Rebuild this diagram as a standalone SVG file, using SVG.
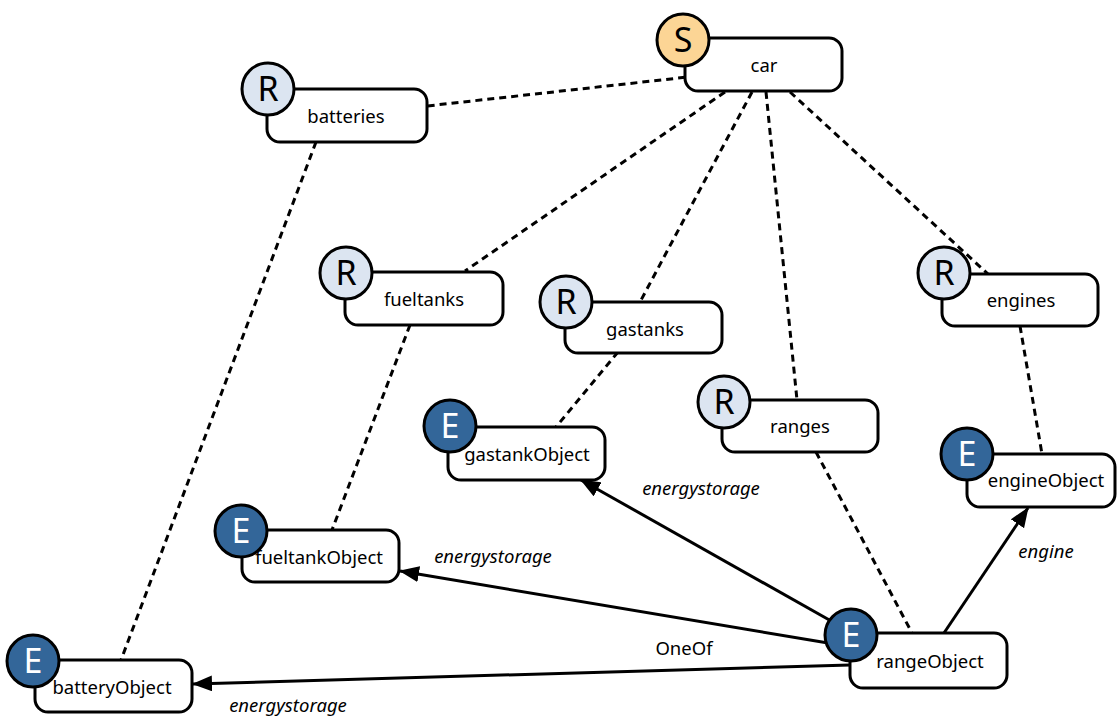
<svg xmlns="http://www.w3.org/2000/svg" width="1119" height="717" viewBox="0 0 1119 717">
<style>
.box{fill:#fff;stroke:#000;stroke-width:3}
.c{stroke:#000;stroke-width:3}
.S{fill:#FCD595}
.R{fill:#DCE5F1}
.E{fill:#336699}
.lt{font-family:"Noto Sans","Liberation Sans",sans-serif;font-size:18.5px;text-anchor:middle;fill:#000}
.ct{font-family:"Noto Sans","Liberation Sans",sans-serif;font-size:34px;text-anchor:middle;fill:#000}
.ct.w{fill:#fff}
.dash{fill:none;stroke:#000;stroke-width:3;stroke-dasharray:7 5}
.arr{fill:none;stroke:#000;stroke-width:3;marker-end:url(#ah)}
.el{font-family:"Noto Sans","Liberation Sans",sans-serif;font-size:18.5px;text-anchor:middle;fill:#000}
.it{font-style:italic}
</style>
<defs>
<marker id="ah" markerUnits="userSpaceOnUse" markerWidth="20" markerHeight="16" viewBox="0 0 20 16" refX="19" refY="8" orient="auto">
<path d="M0,0 L20,8 L0,16 Z" fill="#000"/>
</marker>
</defs>
<g id="connectors">
<line class="dash" x1="697" y1="76" x2="427" y2="106"/>
<line class="dash" x1="725" y1="92" x2="465" y2="271"/>
<line class="dash" x1="752" y1="92" x2="640" y2="302"/>
<line class="dash" x1="766" y1="92" x2="797" y2="400"/>
<line class="dash" x1="790" y1="92" x2="988" y2="274"/>
<line class="dash" x1="316" y1="142" x2="121" y2="660"/>
<line class="dash" x1="410" y1="325" x2="332" y2="530"/>
<line class="dash" x1="618" y1="352" x2="556" y2="427"/>
<line class="dash" x1="1020" y1="326" x2="1042" y2="454"/>
<line class="dash" x1="816" y1="452" x2="912" y2="633"/>
<line class="arr" x1="840" y1="626" x2="581" y2="480"/>
<line class="arr" x1="828" y1="643" x2="400" y2="571"/>
<line class="arr" x1="850" y1="665" x2="193" y2="684"/>
<line class="arr" x1="944" y1="633" x2="1028" y2="508"/>
<text class="el it" x="701" y="495">energystorage</text>
<text class="el it" x="493" y="563">energystorage</text>
<text class="el" x="684" y="655">OneOf</text>
<text class="el it" x="288" y="712">energystorage</text>
<text class="el it" x="1046" y="558">engine</text>
</g>
<g id="car">
<rect class="box" x="685" y="38" width="157" height="53" rx="13"/>
<text class="lt" x="764" y="72">car</text>
<circle class="c S" cx="683" cy="40" r="26"/>
<text class="ct" x="683" y="52">S</text>
</g>
<g id="batteries">
<rect class="box" x="267" y="89" width="160" height="53" rx="13"/>
<text class="lt" x="346" y="123">batteries</text>
<circle class="c R" cx="268" cy="89" r="26"/>
<text class="ct" x="268" y="101">R</text>
</g>
<g id="fueltanks">
<rect class="box" x="345" y="272" width="158" height="53" rx="13"/>
<text class="lt" x="424" y="306">fueltanks</text>
<circle class="c R" cx="346" cy="273" r="26"/>
<text class="ct" x="346" y="285">R</text>
</g>
<g id="gastanks">
<rect class="box" x="565" y="302" width="157" height="51" rx="13"/>
<text class="lt" x="645" y="336">gastanks</text>
<circle class="c R" cx="566" cy="302" r="26"/>
<text class="ct" x="566" y="314">R</text>
</g>
<g id="engines">
<rect class="box" x="942" y="274" width="156" height="52" rx="13"/>
<text class="lt" x="1021" y="307">engines</text>
<circle class="c R" cx="944" cy="273" r="26"/>
<text class="ct" x="944" y="285">R</text>
</g>
<g id="ranges">
<rect class="box" x="722" y="400" width="156" height="52" rx="13"/>
<text class="lt" x="800" y="433">ranges</text>
<circle class="c R" cx="724" cy="402" r="26"/>
<text class="ct" x="724" y="414">R</text>
</g>
<g id="gastankObject">
<rect class="box" x="448" y="427" width="157" height="53" rx="13"/>
<text class="lt" x="527" y="461">gastankObject</text>
<circle class="c E" cx="450" cy="426" r="26"/>
<text class="ct w" x="450" y="438">E</text>
</g>
<g id="fueltankObject">
<rect class="box" x="242" y="530" width="157" height="52" rx="13"/>
<text class="lt" x="319" y="564">fueltankObject</text>
<circle class="c E" cx="241" cy="531" r="26"/>
<text class="ct w" x="241" y="543">E</text>
</g>
<g id="engineObject">
<rect class="box" x="967" y="454" width="148" height="53" rx="13"/>
<text class="lt" x="1046" y="487">engineObject</text>
<circle class="c E" cx="967" cy="454" r="26"/>
<text class="ct w" x="967" y="466">E</text>
</g>
<g id="batteryObject">
<rect class="box" x="35" y="660" width="157" height="52" rx="13"/>
<text class="lt" x="112" y="694">batteryObject</text>
<circle class="c E" cx="33" cy="661" r="26"/>
<text class="ct w" x="33" y="673">E</text>
</g>
<g id="rangeObject">
<rect class="box" x="850" y="633" width="157" height="55" rx="13"/>
<text class="lt" x="930" y="668">rangeObject</text>
<circle class="c E" cx="851" cy="635" r="26"/>
<text class="ct w" x="851" y="647">E</text>
</g>
</svg>
